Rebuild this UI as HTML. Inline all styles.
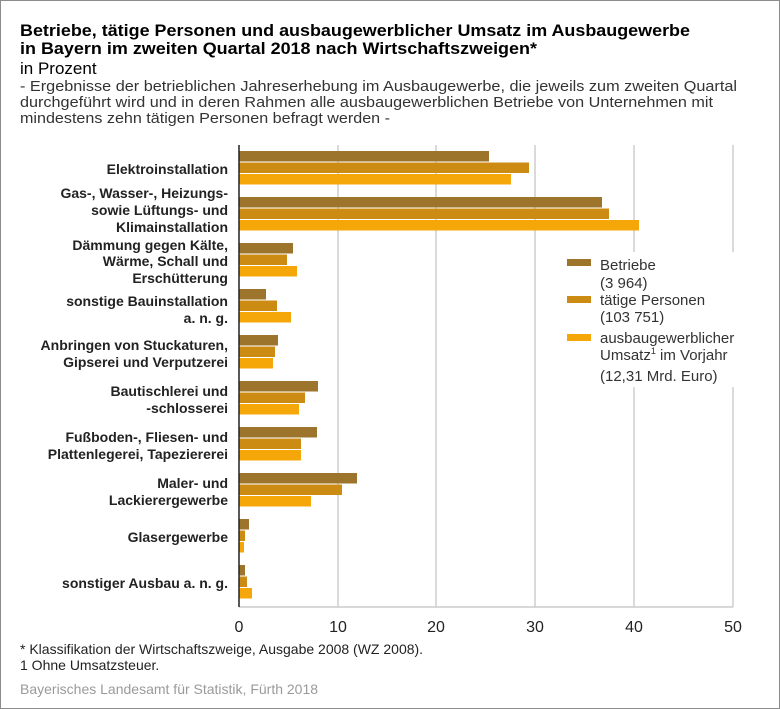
<!DOCTYPE html>
<html><head><meta charset="utf-8"><style>
body{margin:0;background:#fff}
svg{display:block;font-family:"Liberation Sans",sans-serif}
</style></head><body>
<svg width="780" height="709" viewBox="0 0 780 709" xmlns="http://www.w3.org/2000/svg">
<rect x="0.5" y="0.5" width="779" height="708" fill="#fff" stroke="#8c8c8c"/>
<text x="20" y="36" font-size="17" font-weight="bold" fill="#000" textLength="670" lengthAdjust="spacingAndGlyphs">Betriebe, tätige Personen und ausbaugewerblicher Umsatz im Ausbaugewerbe</text>
<text x="20" y="54" font-size="17" font-weight="bold" fill="#000" textLength="517" lengthAdjust="spacingAndGlyphs">in Bayern im zweiten Quartal 2018 nach Wirtschaftszweigen*</text>
<text x="20" y="74" font-size="17" fill="#000">in Prozent</text>
<g font-size="15" fill="#333">
<text x="20" y="91" textLength="717" lengthAdjust="spacingAndGlyphs">- Ergebnisse der betrieblichen Jahreserhebung im Ausbaugewerbe, die jeweils zum zweiten Quartal</text>
<text x="20" y="107" textLength="693" lengthAdjust="spacingAndGlyphs">durchgeführt wird und in deren Rahmen alle ausbaugewerblichen Betriebe von Unternehmen mit</text>
<text x="20" y="123" textLength="370" lengthAdjust="spacingAndGlyphs">mindestens zehn tätigen Personen befragt werden -</text>
</g>
<g stroke="#b4b4b4" stroke-width="1">
<line x1="338" y1="145" x2="338" y2="607"/>
<line x1="436" y1="145" x2="436" y2="607"/>
<line x1="535" y1="145" x2="535" y2="607"/>
<line x1="634" y1="145" x2="634" y2="607"/>
<line x1="733" y1="145" x2="733" y2="607"/>
</g>
<line x1="239" y1="607" x2="733" y2="607" stroke="#ccc" stroke-width="1.5"/>
<g>
<rect x="239" y="151" width="250" height="10.5" fill="#9c742c"/><rect x="239" y="162.5" width="290" height="10.5" fill="#cc8c14"/><rect x="239" y="174" width="272" height="10.5" fill="#f5a70a"/>
<rect x="239" y="197" width="363" height="10.5" fill="#9c742c"/><rect x="239" y="208.5" width="370" height="10.5" fill="#cc8c14"/><rect x="239" y="220" width="400" height="10.5" fill="#f5a70a"/>
<rect x="239" y="243" width="54" height="10.5" fill="#9c742c"/><rect x="239" y="254.5" width="48" height="10.5" fill="#cc8c14"/><rect x="239" y="266" width="58" height="10.5" fill="#f5a70a"/>
<rect x="239" y="289" width="27" height="10.5" fill="#9c742c"/><rect x="239" y="300.5" width="38" height="10.5" fill="#cc8c14"/><rect x="239" y="312" width="52" height="10.5" fill="#f5a70a"/>
<rect x="239" y="335" width="39" height="10.5" fill="#9c742c"/><rect x="239" y="346.5" width="36" height="10.5" fill="#cc8c14"/><rect x="239" y="358" width="34" height="10.5" fill="#f5a70a"/>
<rect x="239" y="381" width="79" height="10.5" fill="#9c742c"/><rect x="239" y="392.5" width="66" height="10.5" fill="#cc8c14"/><rect x="239" y="404" width="60" height="10.5" fill="#f5a70a"/>
<rect x="239" y="427" width="78" height="10.5" fill="#9c742c"/><rect x="239" y="438.5" width="62" height="10.5" fill="#cc8c14"/><rect x="239" y="450" width="62" height="10.5" fill="#f5a70a"/>
<rect x="239" y="473" width="118" height="10.5" fill="#9c742c"/><rect x="239" y="484.5" width="103" height="10.5" fill="#cc8c14"/><rect x="239" y="496" width="72" height="10.5" fill="#f5a70a"/>
<rect x="239" y="519" width="10" height="10.5" fill="#9c742c"/><rect x="239" y="530.5" width="6" height="10.5" fill="#cc8c14"/><rect x="239" y="542" width="5" height="10.5" fill="#f5a70a"/>
<rect x="239" y="565" width="6" height="10.5" fill="#9c742c"/><rect x="239" y="576.5" width="8" height="10.5" fill="#cc8c14"/><rect x="239" y="588" width="13" height="10.5" fill="#f5a70a"/>
</g>
<line x1="239" y1="145" x2="239" y2="607" stroke="#222" stroke-width="1.5"/>
<g font-size="16" fill="#222" text-anchor="middle">
<text x="239" y="632">0</text><text x="338" y="632">10</text><text x="436" y="632">20</text><text x="535" y="632">30</text><text x="634" y="632">40</text><text x="733" y="632">50</text>
</g>
<g font-size="14" font-weight="bold" fill="#222" text-anchor="end">
<text x="228" y="174">Elektroinstallation</text>
<text x="228" y="198">Gas-, Wasser-, Heizungs-</text><text x="228" y="215">sowie Lüftungs- und</text><text x="228" y="232">Klimainstallation</text>
<text x="228" y="250">Dämmung gegen Kälte,</text><text x="228" y="266">Wärme, Schall und</text><text x="228" y="283">Erschütterung</text>
<text x="228" y="306">sonstige Bauinstallation</text><text x="228" y="323">a. n. g.</text>
<text x="228" y="350">Anbringen von Stuckaturen,</text><text x="228" y="367">Gipserei und Verputzerei</text>
<text x="228" y="396">Bautischlerei und</text><text x="228" y="413">-schlosserei</text>
<text x="228" y="442">Fußboden-, Fliesen- und</text><text x="228" y="459">Plattenlegerei, Tapeziererei</text>
<text x="228" y="488">Maler- und</text><text x="228" y="505">Lackierergewerbe</text>
<text x="228" y="542">Glasergewerbe</text>
<text x="228" y="588">sonstiger Ausbau a. n. g.</text>
</g>
<rect x="552" y="252" width="210" height="135" fill="#fff"/>
<rect x="567" y="259" width="24" height="7" fill="#9c742c"/>
<rect x="567" y="296" width="24" height="7" fill="#cc8c14"/>
<rect x="567" y="334" width="24" height="7" fill="#f5a70a"/>
<g font-size="15" fill="#333">
<text x="600" y="270">Betriebe</text>
<text x="600" y="288">(3 964)</text>
<text x="600" y="305">tätige Personen</text>
<text x="600" y="322">(103 751)</text>
<text x="600" y="343">ausbaugewerblicher</text>
<text x="600" y="360">Umsatz<tspan font-size="9" dy="-6">1</tspan><tspan dy="6"> im Vorjahr</tspan></text>
<text x="600" y="381">(12,31 Mrd. Euro)</text>
</g>
<g font-size="14" fill="#222">
<text x="20" y="654">*  Klassifikation der Wirtschaftszweige, Ausgabe 2008 (WZ 2008).</text>
<text x="20" y="670">1  Ohne Umsatzsteuer.</text>
</g>
<text x="20" y="694" font-size="14" fill="#9a9a9a">Bayerisches Landesamt für Statistik, Fürth 2018</text>
</svg>
</body></html>
